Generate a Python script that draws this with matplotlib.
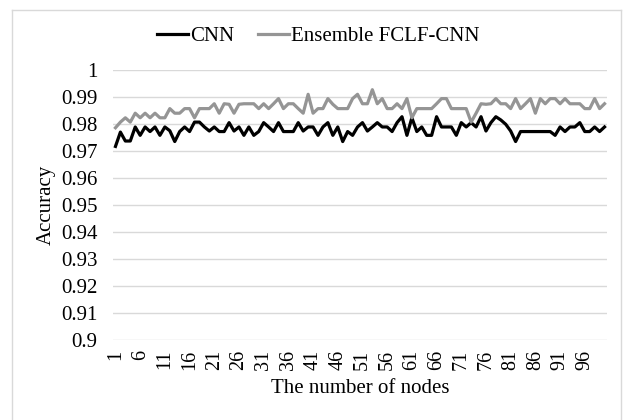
import matplotlib
matplotlib.use("Agg")
import matplotlib.pyplot as plt
from matplotlib.lines import Line2D

nodes = list(range(1, 101))
cnn = [0.9717, 0.9770, 0.9737, 0.9737, 0.9789, 0.9758, 0.9789, 0.9772, 0.9789, 0.9758,
       0.9789, 0.9775, 0.9735, 0.9772, 0.9789, 0.9772, 0.9807, 0.9807, 0.9789, 0.9774,
       0.9789, 0.9772, 0.9772, 0.9805, 0.9774, 0.9789, 0.9758, 0.9789, 0.9758, 0.9772,
       0.9805, 0.9789, 0.9772, 0.9805, 0.9772, 0.9772, 0.9772, 0.9805, 0.9774, 0.9789,
       0.9789, 0.9758, 0.9789, 0.9805, 0.9758, 0.9789, 0.9735, 0.9772, 0.9758, 0.9789,
       0.9805, 0.9774, 0.9789, 0.9805, 0.9789, 0.9789, 0.9772, 0.9805, 0.9827, 0.9758,
       0.9823, 0.9772, 0.9789, 0.9758, 0.9758, 0.9827, 0.9789, 0.9789, 0.9789, 0.9758,
       0.9805, 0.9789, 0.9805, 0.9789, 0.9827, 0.9774, 0.9805, 0.9827, 0.9815, 0.9799,
       0.9774, 0.9735, 0.9772, 0.9772, 0.9772, 0.9772, 0.9772, 0.9772, 0.9772, 0.9758,
       0.9789, 0.9772, 0.9789, 0.9789, 0.9805, 0.9772, 0.9772, 0.9789, 0.9772, 0.9789]
ensemble = [0.9786, 0.9807, 0.9823, 0.9807, 0.9840, 0.9823, 0.9840, 0.9823, 0.9840, 0.9823,
            0.9823, 0.9857, 0.9840, 0.9840, 0.9857, 0.9857, 0.9823, 0.9857, 0.9857, 0.9857,
            0.9875, 0.9840, 0.9875, 0.9873, 0.9840, 0.9873, 0.9875, 0.9875, 0.9875, 0.9857,
            0.9875, 0.9857, 0.9875, 0.9894, 0.9857, 0.9875, 0.9875, 0.9857, 0.9840, 0.9910,
            0.9840, 0.9857, 0.9857, 0.9894, 0.9873, 0.9857, 0.9857, 0.9857, 0.9894, 0.9910,
            0.9875, 0.9875, 0.9927, 0.9875, 0.9894, 0.9857, 0.9857, 0.9875, 0.9857, 0.9894,
            0.9823, 0.9857, 0.9857, 0.9857, 0.9857, 0.9875, 0.9894, 0.9894, 0.9857, 0.9857,
            0.9857, 0.9857, 0.9807, 0.9840, 0.9875, 0.9873, 0.9875, 0.9894, 0.9875, 0.9875,
            0.9857, 0.9894, 0.9857, 0.9875, 0.9894, 0.9840, 0.9894, 0.9875, 0.9894, 0.9894,
            0.9875, 0.9894, 0.9875, 0.9875, 0.9875, 0.9857, 0.9857, 0.9894, 0.9857, 0.9875]
xtick_vals = list(range(1, 101, 5))
ytick_vals = [0.9, 0.91, 0.92, 0.93, 0.94, 0.95, 0.96, 0.97, 0.98, 0.99, 1.0]
ytick_labels = ["0.9", "0.91", "0.92", "0.93", "0.94", "0.95", "0.96", "0.97", "0.98", "0.99", "1"]

plt.rcParams['font.family'] = ['Liberation Serif', 'DejaVu Serif']
FS = 15

fig = plt.figure(figsize=(6.24, 4.2), dpi=100)
ax = fig.add_axes([113/624, 1 - 340/420, (607 - 113)/624, (340 - 70)/420])

ax.plot(nodes, cnn, color='black', lw=2.3, label='CNN', solid_joinstyle='round')
ax.plot(nodes, ensemble, color='#959595', lw=2.3, label='Ensemble FCLF-CNN', solid_joinstyle='round')

ax.set_xlim(0.5, 100.5)
ax.set_ylim(0.9, 1.0)
ax.set_yticks(ytick_vals)
ax.set_yticklabels(ytick_labels, fontsize=FS)
ax.set_xticks(xtick_vals)
ax.set_xticklabels([str(v) for v in xtick_vals], rotation=90, fontsize=14.5)
ax.tick_params(axis='both', length=0)
ax.tick_params(axis='x', pad=7)
ax.tick_params(axis='y', pad=11)
ax.grid(axis='y', color='#d9d9d9', lw=1)
ax.set_axisbelow(True)
for s in ax.spines.values():
    s.set_visible(False)

ax.set_ylabel('Accuracy', fontsize=FS, labelpad=4)
ax.set_xlabel('The number of nodes', fontsize=FS)
ax.xaxis.set_label_coords(0.5, -0.145)

leg = fig.legend(loc='center', bbox_to_anchor=(0.51, 1 - 36/420), ncol=2, frameon=False,
                 fontsize=FS, handlelength=1.5, handletextpad=0.1, columnspacing=1.1)

# outer chart frame
c = '#d9d9d9'
fig.add_artist(Line2D([12/624, 621/624], [1 - 10/420, 1 - 10/420], transform=fig.transFigure, color=c, lw=1))
fig.add_artist(Line2D([12/624, 12/624], [1 - 10/420, 0], transform=fig.transFigure, color=c, lw=1))
fig.add_artist(Line2D([621/624, 621/624], [1 - 10/420, 0], transform=fig.transFigure, color=c, lw=1))

fig.savefig('out.png', dpi=100)
